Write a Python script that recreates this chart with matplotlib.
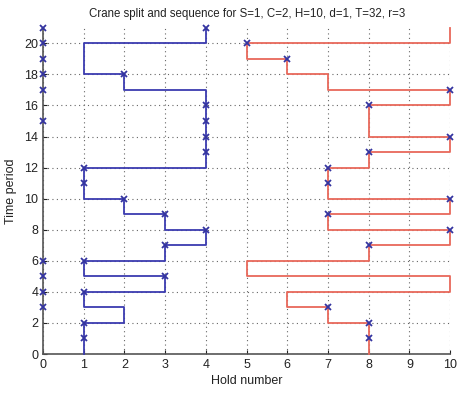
import numpy as np
import matplotlib
matplotlib.use("Agg")
import matplotlib.pyplot as plt

plt.rcParams["font.family"] = ["Liberation Sans", "DejaVu Sans"]

# Hold occupied by each crane during interval [t, t+1], t = 0..20
crane1_hold = [1, 1, 2, 1, 3, 1, 3, 4, 3, 2, 1, 1, 4, 4, 4, 4, 4, 2, 1, 1, 4]
crane2_hold = [8, 8, 7, 6, 10, 5, 8, 10, 7, 10, 7, 7, 8, 10, 8, 8, 10, 7, 6, 5, 10]

# Marker positions (hold worked at time t, 0 = idle), t = 1..21
mark_times = list(range(1, 22))
crane1_mark = [1, 1, 0, 1, 3, 1, 3, 4, 3, 2, 1, 1, 4, 4, 4, 4, 0, 2, 0, 0, 4]
crane2_mark = [8, 8, 7, 0, 0, 0, 8, 10, 7, 10, 7, 7, 8, 10, 0, 8, 10, 0, 6, 5, 0]

title = "Crane split and sequence for S=1, C=2, H=10, d=1, T=32, r=3"
xticks = list(range(0, 11))
yticks = list(range(0, 21, 2))


def path(holds):
    xs, ys = [], []
    for t, h in enumerate(holds):
        xs += [h, h]
        ys += [t, t + 1]
    return xs, ys


fig = plt.figure(figsize=(4.58, 3.94), dpi=100)
ax = fig.add_axes([0.094, 0.1015, 0.889, 0.828])

x1, y1 = path(crane1_hold)
x2, y2 = path(crane2_hold)
ax.plot(x1, y1, color="#3b3bb0", lw=1.3, zorder=3, clip_on=False)
ax.plot(x2, y2, color="#e8685a", lw=1.3, zorder=3, clip_on=False)

mk = dict(marker="x", ls="none", color="#3434a0", ms=4, mew=1.3, zorder=4, clip_on=False)
ax.plot(crane1_mark, mark_times, **mk)
ax.plot(crane2_mark, mark_times, **mk)

ax.set_xlim(0, 10)
ax.set_ylim(0, 21)
ax.set_xticks(xticks)
ax.set_yticks(yticks)
ax.tick_params(direction="in", labelsize=9, length=3, colors="#222222")
ax.grid(True, linestyle=(0, (1, 3)), color="#666666", lw=0.8)
for s in ["top", "right"]:
    ax.spines[s].set_visible(False)
for s in ["left", "bottom"]:
    ax.spines[s].set_color("#555555")
    ax.spines[s].set_linewidth(1.2)

ax.set_title(title, fontsize=8.3, pad=8, color="#222222")
ax.set_xlabel("Hold number", fontsize=9, color="#222222", labelpad=3)
ax.set_ylabel("Time period", fontsize=9, color="#222222", labelpad=5)

fig.savefig("out.png", dpi=100)
